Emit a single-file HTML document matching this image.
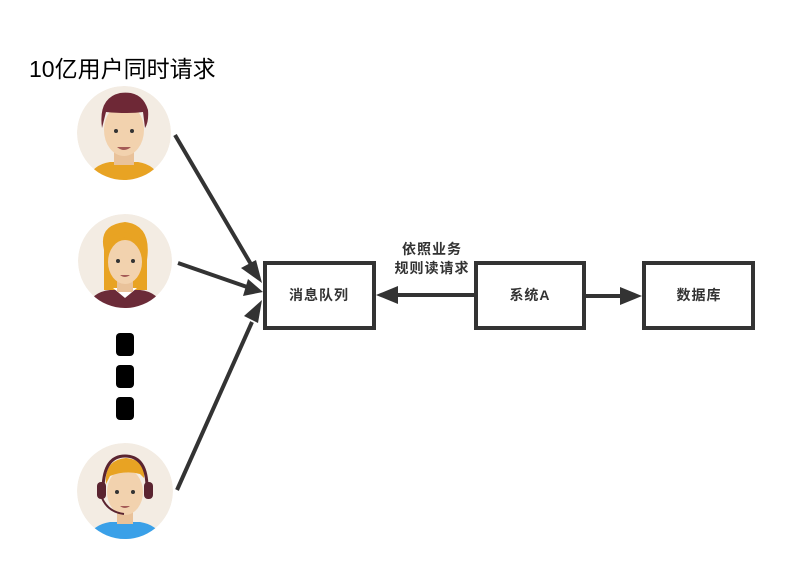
<!DOCTYPE html>
<html><head><meta charset="utf-8"><style>
html,body{margin:0;padding:0;background:#fff;}
body{width:800px;height:558px;overflow:hidden;position:relative;font-family:"Liberation Sans","Noto Sans CJK SC",sans-serif;}
</style></head><body>
<svg width="800" height="558" viewBox="0 0 800 558" xmlns="http://www.w3.org/2000/svg">
<defs>
<clipPath id="c1"><circle cx="124" cy="133" r="47"/></clipPath>
<clipPath id="c2"><circle cx="125" cy="261" r="47"/></clipPath>
<clipPath id="c3"><circle cx="125" cy="491" r="48"/></clipPath>
</defs>
<text x="29" y="77" font-size="23" fill="#000" font-family="Liberation Sans, Noto Sans CJK SC, sans-serif">10亿用户同时请求</text>

<!-- avatar 1 -->
<g clip-path="url(#c1)">
<circle cx="124" cy="133" r="47" fill="#f3ece3"/>
<path d="M86 185 Q90 165 110 162 L138 162 Q158 165 162 185 Z" fill="#e8a323"/>
<rect x="114" y="150" width="20" height="15" fill="#e9c29a"/>
<ellipse cx="124" cy="130" rx="20" ry="26" fill="#f2d2ae"/>
<path d="M102 128 Q98 98 120 93 Q142 90 148 110 Q149 122 145 128 L143 112 Q128 114 106 112 Z" fill="#6e2836"/>
<circle cx="116" cy="131" r="2" fill="#333"/><circle cx="132" cy="131" r="2" fill="#333"/>
<path d="M117 147 Q124 153 131 147 Z" fill="#a45a56"/>
</g>
<!-- avatar 2 -->
<g clip-path="url(#c2)">
<circle cx="125" cy="261" r="47" fill="#f3ece3"/>
<path d="M104 250 Q98 225 125 222 Q152 225 147 260 L147 290 L104 290 Z" fill="#e8a323"/>
<path d="M85 312 Q90 292 110 290 L140 290 Q160 292 165 312 Z" fill="#6b2b38"/>
<path d="M113 288 L125 298 L137 288 Z" fill="#fff"/>
<rect x="117" y="276" width="16" height="16" fill="#e9c29a"/>
<ellipse cx="125" cy="262" rx="17" ry="22" fill="#f2d2ae"/>
<path d="M108 254 Q112 236 130 238 Q140 240 143 250 L143 240 Q130 228 110 236 Z" fill="#e8a323"/>
<circle cx="118" cy="261" r="2" fill="#333"/><circle cx="133" cy="261" r="2" fill="#333"/>
<path d="M120 275 Q125 279 130 275 Z" fill="#a45a56"/>
</g>
<!-- avatar 3 -->
<g clip-path="url(#c3)">
<circle cx="125" cy="491" r="48" fill="#f3ece3"/>
<path d="M84 545 Q90 525 110 522 L140 522 Q160 525 166 545 Z" fill="#3aa0e8"/>
<rect x="117" y="508" width="16" height="16" fill="#e9c29a"/>
<ellipse cx="125" cy="492" rx="18" ry="23" fill="#f2d2ae"/>
<path d="M106 484 Q104 460 126 458 Q146 460 144 478 L140 474 Q125 470 110 476 Z" fill="#e8a323"/>
<path d="M103 488 Q104 456 125 456 Q147 456 147 488" fill="none" stroke="#5a2430" stroke-width="3"/>
<rect x="97" y="482" width="9" height="17" rx="4" fill="#5a2430"/>
<rect x="144" y="482" width="9" height="17" rx="4" fill="#5a2430"/>
<path d="M102 498 Q108 512 124 514" fill="none" stroke="#5a2430" stroke-width="2"/>
<circle cx="117" cy="492" r="2" fill="#333"/><circle cx="133" cy="492" r="2" fill="#333"/>
<path d="M120 506 Q125 510 130 506 Z" fill="#a45a56"/>
</g>

<!-- dots -->
<rect x="116" y="333" width="18" height="23" rx="4" fill="#000"/>
<rect x="116" y="365" width="18" height="23" rx="4" fill="#000"/>
<rect x="116" y="397" width="18" height="23" rx="4" fill="#000"/>

<!-- arrows -->
<g stroke="#333" stroke-width="4" fill="none">
<line x1="175" y1="135" x2="252" y2="266"/>
<line x1="178" y1="263" x2="250" y2="288"/>
<line x1="177" y1="490" x2="252" y2="322"/>
<line x1="474" y1="295" x2="395" y2="295"/>
<line x1="586" y1="296" x2="622" y2="296"/>
</g>
<g fill="#333">
<polygon points="262,283 241,268 256,260"/>
<polygon points="263,292 243,296 248,279"/>
<polygon points="262,300 258,323 244,316"/>
<polygon points="376,295 398,286 398,304"/>
<polygon points="642,296 620,287 620,305"/>
</g>

<!-- boxes -->
<g fill="#fff" stroke="#333" stroke-width="4">
<rect x="265" y="263" width="109" height="65"/>
<rect x="476" y="263" width="108" height="65"/>
<rect x="644" y="263" width="109" height="65"/>
</g>
<g font-size="14" font-weight="bold" fill="#333" text-anchor="middle" font-family="Liberation Sans, Noto Sans CJK SC, sans-serif" letter-spacing="1">
<text x="319" y="300">消息队列</text>
<text x="530" y="300">系统A</text>
<text x="699" y="300">数据库</text>
<text x="432" y="254">依照业务</text>
<text x="432" y="273">规则读请求</text>
</g>
</svg>
</body></html>
